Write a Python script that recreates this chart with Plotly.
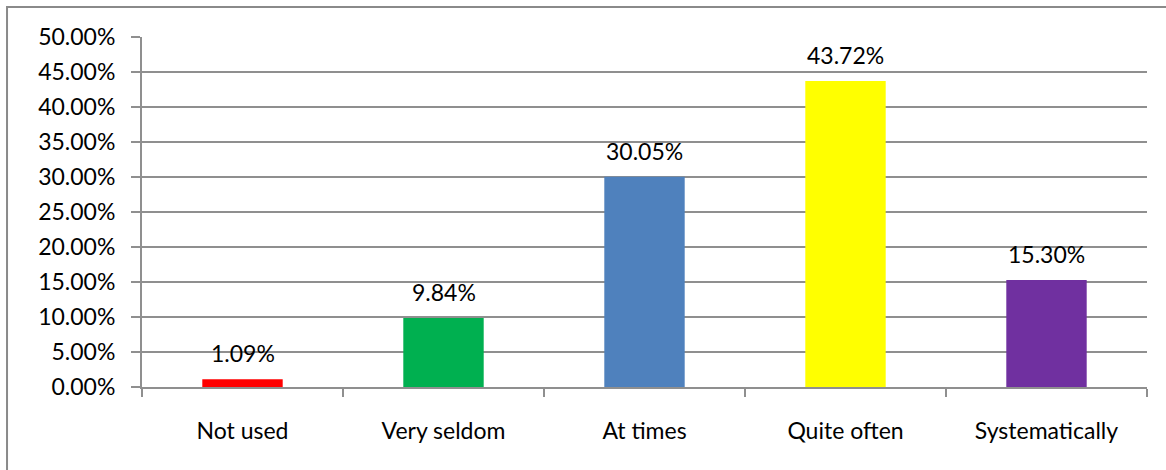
import plotly.graph_objects as go

# Survey responses: share of respondents per frequency category
categories = ["Not used", "Very seldom", "At times", "Quite often", "Systematically"]
shares = [0.0109, 0.0984, 0.3005, 0.4372, 0.1530]
bar_colors = ["#FF0000", "#00B050", "#4F81BD", "#FFFF00", "#7030A0"]
y_ticks = [i * 0.05 for i in range(11)]

FONT = "Lato, 'Open Sans', sans-serif"
FSIZE = 23
GRID = "#8f8f8f"

fig = go.Figure(
    go.Bar(
        x=categories,
        y=shares,
        marker=dict(color=bar_colors, line=dict(width=0)),
        width=0.4,
        hoverinfo="skip",
    )
)

# value labels above each bar
for cat, val in zip(categories, shares):
    fig.add_annotation(
        x=cat, y=val, text=f"{val * 100:.2f}%",
        showarrow=False, yanchor="bottom", yshift=10,
        font=dict(family=FONT, size=FSIZE, color="#000000"),
    )

# chart-area frame
fig.add_shape(
    type="rect", xref="paper", yref="paper",
    x0=-0.1343, x1=1.2, y0=-0.5, y1=1.0857,
    line=dict(color="#8a8a8a", width=2), fillcolor="rgba(0,0,0,0)", layer="below",
)

fig.update_layout(
    width=1166, height=470,
    margin=dict(l=142, r=19, t=37, b=83),
    paper_bgcolor="white", plot_bgcolor="white",
    showlegend=False,
    font=dict(family=FONT, size=FSIZE, color="#000000"),
    bargap=0.6,
)
fig.update_xaxes(
    type="category",
    showgrid=False,
    showline=True, linecolor=GRID, linewidth=2,
    ticks="outside", tickson="boundaries", ticklen=8, tickcolor=GRID, tickwidth=2,
    ticklabelstandoff=22,
    tickfont=dict(family=FONT, size=FSIZE, color="#000000"),
)
fig.update_yaxes(
    range=[0, 0.5],
    tickvals=y_ticks, tickformat=".2%",
    showgrid=True, gridcolor=GRID, gridwidth=2,
    zeroline=False,
    showline=True, linecolor=GRID, linewidth=2,
    ticks="outside", ticklen=9, tickcolor=GRID, tickwidth=2,
    ticklabelstandoff=11,
    tickfont=dict(family=FONT, size=FSIZE, color="#000000"),
)

fig.write_html("out.html")
